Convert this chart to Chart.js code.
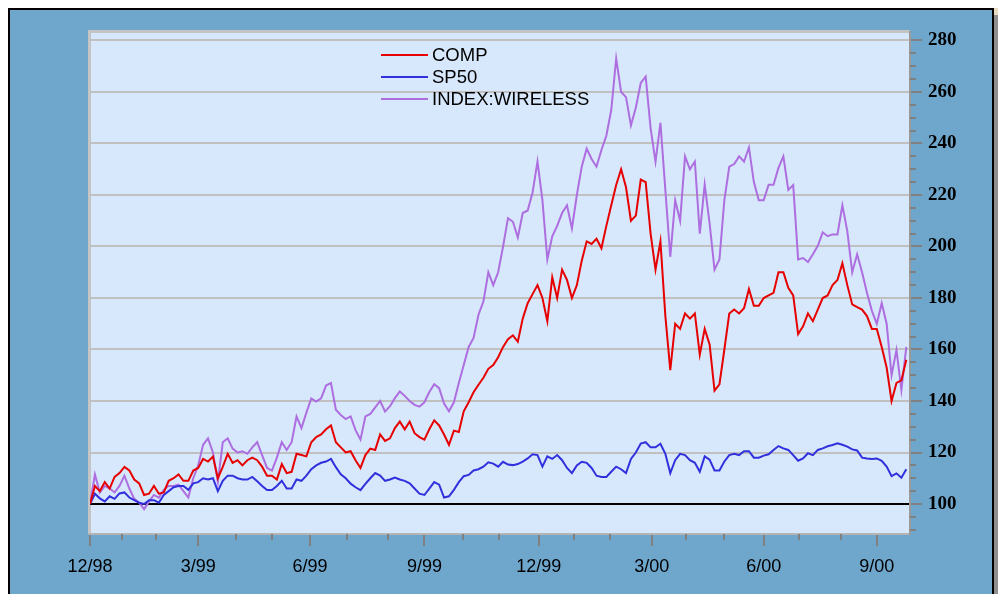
<!DOCTYPE html>
<html>
<head>
<meta charset="utf-8">
<title>COMP / SP50 / INDEX:WIRELESS</title>
<script src="https://cdn.jsdelivr.net/npm/chart.js@4.4.1/dist/chart.umd.min.js"></script>
<style>
  html, body { margin: 0; padding: 0; background: #fff; overflow: hidden; }
  #frame { position: absolute; left: 8px; top: 8px; width: 986px; height: 600px; box-sizing: border-box;
           border: 2px solid #000; border-bottom: none; background: #6fa6cc; }
  #edge { position: absolute; left: 994px; top: 8px; width: 4px; height: 586px; box-sizing: border-box;
          background: #8f8f8f; border-top: 7px solid #e8dcc0; }
  #chart { position: absolute; left: 0; top: 0; }
</style>
</head>
<body>
<div id="frame"></div>
<div id="edge"></div>
<canvas id="chart" width="998" height="594"></canvas>
<script>
// All three series are rebased to 100 at 12/98, one reading every 4 days
const DAY_STEP = 4;

const seriesNames = ['COMP', 'SP50', 'INDEX:WIRELESS'];

const comp = [
  100, 107, 105, 108.5, 106, 110.5, 112, 114.4, 113, 109.5,
  108, 103.5, 104, 107, 104, 104.5, 109, 110, 111.5, 109,
  109, 113, 114, 117.5, 116.5, 118.4, 110, 114.4, 119.5, 116,
  117, 115, 117, 118, 117, 114.5, 111, 111, 109.5, 115.5,
  112, 112.5, 119.5, 119, 118.5, 124, 126, 127, 129, 130.5,
  124, 122, 120, 120.5, 117, 114, 119, 121.5, 121, 127,
  124.5, 125.5, 129.5, 132, 129, 132, 127.5, 126, 125, 129,
  132.5, 130.5, 127, 123, 128.5, 128, 136, 139.5, 143.4, 146.3,
  149, 152.5, 154, 157, 161, 164, 165.5, 163, 172, 178,
  181.5, 185, 180, 171, 188, 180, 191, 187, 180, 185,
  194.5, 202, 201, 203, 199.3, 208, 216, 223.9, 230, 223,
  210, 212, 226, 225, 205, 191, 202, 173, 152, 170,
  168, 174, 172, 174, 158, 168, 162, 144, 146.5, 160,
  174, 175.5, 174, 176, 183.5, 177, 177, 180, 181, 182,
  190, 190, 184, 181, 166, 169, 174, 171, 175.5, 180,
  181, 185, 187, 193.5, 185, 177.5, 176.5, 175.5, 173, 168,
  168, 161, 153, 140, 147, 148, 156
];

const sp50 = [
  100, 104, 102.2, 101, 103, 102, 104.1, 104.5, 102.5, 101.5,
  100.5, 100, 101.5, 101.5, 100.5, 103.5, 105, 106.5, 107, 107,
  105.5, 108, 108.5, 110, 109.5, 110, 105, 109, 111, 111,
  110, 109.5, 109.5, 110.5, 108.8, 107, 105.4, 105.4, 107, 109,
  106, 106, 109.5, 109, 111, 113.5, 115, 116, 116.5, 117.5,
  114.3, 111.5, 110, 107.9, 106.5, 105.4, 107.8, 110, 112, 111,
  109, 109.5, 110.3, 109.5, 109, 108, 106, 104, 103.5, 106,
  108.5, 107.5, 102.5, 103, 105.5, 108.5, 110.8, 111.3, 113, 113.5,
  114.5, 116.2, 115.7, 114.5, 116.4, 115.3, 115.1, 115.5, 116.5, 117.7,
  119.3, 119, 114.5, 118.5, 117.5, 119, 117, 114, 112, 115,
  116.4, 116, 114, 111, 110.5, 110.5, 112.5, 114.5, 113.5, 112,
  117.5, 120, 123.5, 124, 122, 122, 123.4, 119.5, 112, 117,
  119.5, 119, 117, 116, 112.5, 118.5, 117.2, 113, 113, 116.5,
  119, 119.5, 119, 120.5, 120.5, 118, 118, 118.8, 119.3, 121,
  122.5, 121.6, 121, 119, 116.8, 117.7, 119.7, 119, 121, 121.6,
  122.4, 122.9, 123.6, 123, 122.3, 121.2, 120.8, 118, 117.7, 117.5,
  117.7, 116.8, 114.5, 110.8, 111.9, 110.2, 113.5
];

const wireless = [
  100, 111.5, 104.5, 107, 106, 104.5, 107, 111, 106, 102,
  100.5, 98, 101, 103.5, 102.5, 105.5, 107, 107, 107.5, 105,
  102.5, 110, 115, 123, 125.5, 120, 108.5, 124, 125.5, 121.5,
  120, 120.5, 119.5, 122, 124, 119, 114, 113, 118, 124,
  121, 124, 134, 129.5, 135.5, 141, 139.8, 141, 146, 147,
  136.6, 134.6, 133, 134, 128.7, 125, 134, 135, 137.5, 140,
  135.9, 138, 141.1, 143.7, 142, 140, 138.5, 137.8, 139.5, 143.5,
  146.5, 145, 139, 136, 139.5, 147, 154, 161, 164.5, 173.5,
  178.6, 190, 185, 190, 200, 211, 209.6, 203.5, 213, 214,
  221, 233, 218, 195, 204, 208, 213, 216, 207, 220,
  231, 238, 234, 231, 237.5, 243, 253, 273, 260, 258,
  247, 254, 263.5, 266, 246, 233, 248, 222, 196, 218,
  210, 235, 230, 233, 205, 224, 209, 191, 195, 218,
  231, 232, 235, 233, 238.5, 225, 218, 218, 224, 224,
  230.5, 235, 222, 223.9, 195, 195.5, 194, 197, 200.3, 205.5,
  204, 204.7, 204.7, 216, 206, 190, 197, 190, 182, 175,
  170, 178, 170, 150, 159.8, 144.3, 161
];

// x axis, days after 12/1/98 where the tick marks sit
const quarterDays = [0, 88, 179, 272, 365, 457, 548, 640];
const quarterLabels = ['12/98', '3/99', '6/99', '9/99', '12/99', '3/00', '6/00', '9/00'];
const monthDays = [26, 54, 119, 148, 209, 242, 303, 333, 394, 423, 485, 516, 577, 611];

// y axis labels (right side)
const yLabels = [100, 120, 140, 160, 180, 200, 220, 240, 260, 280];

const toPoints = vals => vals.map((v, i) => ({ x: i * DAY_STEP, y: v }));

// light blue plot panel with its grey top/left edge
const plotBackground = {
  id: 'plotBackground',
  beforeDraw(chart) {
    const { ctx, chartArea: a } = chart;
    ctx.save();
    ctx.fillStyle = '#d8e8fc';
    ctx.fillRect(a.left, a.top, a.right - a.left, a.bottom - a.top);
    ctx.strokeStyle = '#c4c4c4';
    ctx.lineWidth = 3;
    ctx.beginPath();
    ctx.moveTo(a.left - 0.5, a.bottom);
    ctx.lineTo(a.left - 0.5, a.top - 0.5);
    ctx.lineTo(a.right, a.top - 0.5);
    ctx.stroke();
    ctx.restore();
  }
};

// short ticks for months and for every 5 points on the value axis
const minorTicks = {
  id: 'minorTicks',
  afterDraw(chart) {
    const { ctx, chartArea: a, scales: { x, y } } = chart;
    ctx.save();
    ctx.strokeStyle = '#808080';
    ctx.lineWidth = 2;
    ctx.beginPath();
    monthDays.forEach(d => {
      const px = Math.round(x.getPixelForValue(d));
      ctx.moveTo(px, a.bottom);
      ctx.lineTo(px, a.bottom + 6);
    });
    for (let v = 90; v <= 280; v += 5) {
      if (v % 20 === 0) continue;
      const py = Math.round(y.getPixelForValue(v));
      ctx.moveTo(a.right, py);
      ctx.lineTo(a.right + 6, py);
    }
    ctx.stroke();
    ctx.restore();
  }
};

// legend sits inside the plot, near the top
const insideLegend = {
  id: 'insideLegend',
  afterDraw(chart) {
    const { ctx, chartArea: a } = chart;
    const left = a.left + 291;
    ctx.save();
    ctx.font = '18.5px "Liberation Sans", Arial, sans-serif';
    ctx.textBaseline = 'middle';
    ctx.fillStyle = '#000';
    chart.data.datasets.forEach((ds, k) => {
      const yy = a.top + 23 + k * 22;
      ctx.strokeStyle = ds.borderColor;
      ctx.lineWidth = 2;
      ctx.beginPath();
      ctx.moveTo(left, yy);
      ctx.lineTo(left + 47, yy);
      ctx.stroke();
      ctx.fillText(ds.label, left + 51, yy + 1);
    });
    ctx.restore();
  }
};

new Chart(document.getElementById('chart'), {
  type: 'line',
  data: {
    datasets: [
      { label: seriesNames[0], data: toPoints(comp), borderColor: '#e60000' },
      { label: seriesNames[1], data: toPoints(sp50), borderColor: '#3030dd' },
      { label: seriesNames[2], data: toPoints(wireless), borderColor: '#ad6ee0' }
    ]
  },
  options: {
    responsive: false,
    animation: false,
    devicePixelRatio: 1,
    layout: { padding: { left: 90, top: 32, right: 28, bottom: 15 } },
    elements: {
      point: { radius: 0 },
      line: { borderWidth: 2, tension: 0 }
    },
    plugins: {
      legend: { display: false },
      tooltip: { enabled: false }
    },
    scales: {
      x: {
        type: 'linear',
        min: 0,
        max: 667,
        afterBuildTicks: s => { s.ticks = quarterDays.map(v => ({ value: v })); },
        afterFit: s => { s.height = 45; s.paddingLeft = 0; s.paddingRight = 0; },
        ticks: {
          autoSkip: false,
          maxRotation: 0,
          padding: 10,
          color: '#000',
          font: { family: '"Liberation Sans", Arial, sans-serif', size: 18 },
          callback: (v, i) => quarterLabels[i]
        },
        grid: { drawOnChartArea: false, tickLength: 12, tickColor: '#808080', lineWidth: 2 },
        border: { display: true, color: '#b4b4b4', width: 2 }
      },
      y: {
        type: 'linear',
        position: 'right',
        min: 88.35,
        max: 283.3,
        afterBuildTicks: s => { s.ticks = yLabels.map(v => ({ value: v })); },
        afterFit: s => { s.width = 60; s.paddingTop = 0; s.paddingBottom = 0; },
        ticks: {
          padding: 6,
          color: '#000',
          font: { family: '"Liberation Serif", "Times New Roman", serif', size: 19, weight: 'bold' }
        },
        grid: {
          color: c => (c.tick && c.tick.value === 100 ? '#000' : '#c0c0c0'),
          lineWidth: 2,
          tickLength: 12,
          tickColor: '#808080'
        },
        border: { display: true, color: '#9a9a9a', width: 2 }
      }
    }
  },
  plugins: [plotBackground, minorTicks, insideLegend]
});
</script>
</body>
</html>
